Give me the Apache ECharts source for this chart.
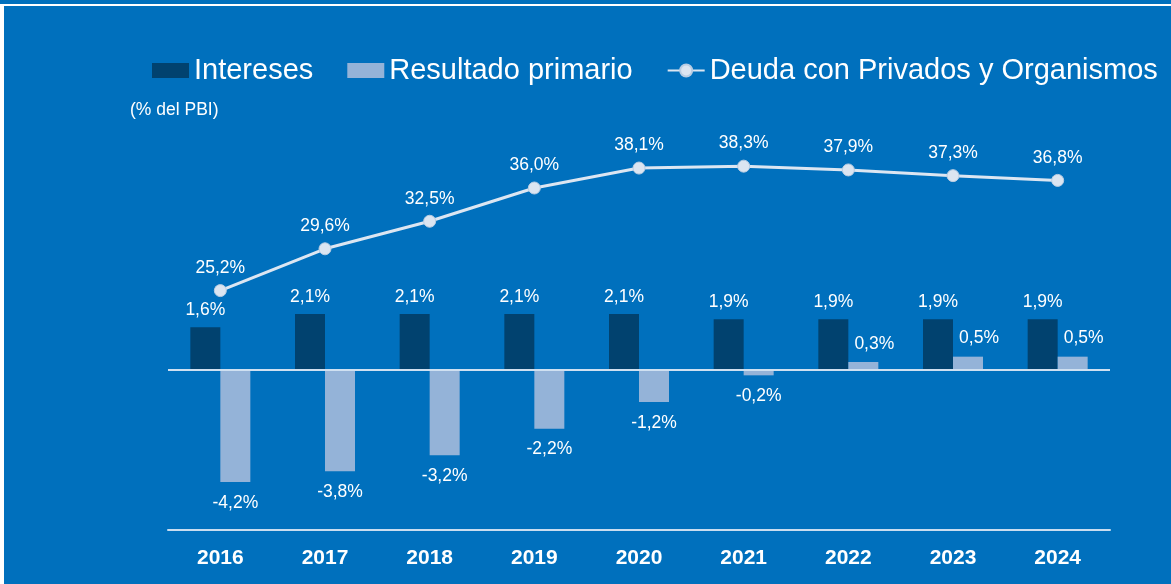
<!DOCTYPE html>
<html>
<head>
<meta charset="utf-8">
<script src="https://cdn.jsdelivr.net/npm/echarts@6/dist/echarts.min.js"></script>
<style>
  html, body { margin: 0; padding: 0; background: #0070bd; }
  #chart { width: 1171px; height: 584px; }
</style>
</head>
<body>
<div id="chart"></div>
<script>
var years = ['2016', '2017', '2018', '2019', '2020', '2021', '2022', '2023', '2024']
var intereses = [1.6, 2.1, 2.1, 2.1, 2.1, 1.9, 1.9, 1.9, 1.9]
var resultadoPrimario = [-4.2, -3.8, -3.2, -2.2, -1.2, -0.2, 0.3, 0.5, 0.5]
var deuda = [25.2, 29.6, 32.5, 36.0, 38.1, 38.3, 37.9, 37.3, 36.8]

var font = "'Liberation Sans', Arial, sans-serif"

function fmt (v) {
  return v.toFixed(1).replace('.', ',') + '%'
}

// negative bars get the label under the bar, positive ones above and a bit right
var primarioData = resultadoPrimario.map(function (v) {
  return {
    value: v,
    label: v < 0
      ? { position: 'bottom', distance: 12, offset: [0, 0] }
      : { position: 'top', distance: 9, offset: [11, 0] }
  }
})

var chart = echarts.init(document.getElementById('chart'))
chart.setOption({
  backgroundColor: '#0070bd',
  animation: false,
  textStyle: { fontFamily: font },
  graphic: [
    { type: 'rect', left: 0, top: 4, shape: { width: 1171, height: 2 }, style: { fill: '#ffffff' } },
    { type: 'rect', left: 0, top: 4, shape: { width: 4, height: 580 }, style: { fill: '#ffffff' } },
    {
      type: 'text', left: 130, top: 101,
      style: { text: '(% del PBI)', fill: '#ffffff', fontSize: 17.5, fontFamily: font }
    }
  ],
  legend: {
    left: 147,
    top: 51,
    itemWidth: 37,
    itemHeight: 15,
    itemGap: 34,
    textStyle: { color: '#ffffff', fontSize: 29, fontFamily: font },
    data: [
      { name: 'Intereses', icon: 'rect' },
      { name: 'Resultado primario', icon: 'rect' },
      { name: 'Deuda con Privados y Organismos' }
    ]
  },
  grid: { left: 168, right: 61, top: 150, bottom: 54 },
  xAxis: {
    type: 'category',
    data: years,
    axisLine: { onZero: false, lineStyle: { color: '#c9ddf0', width: 2 } },
    axisTick: { show: false },
    axisLabel: { color: '#ffffff', fontSize: 21, fontWeight: 'bold', margin: 18, fontFamily: font }
  },
  yAxis: [
    { type: 'value', min: -6, max: 8.25, show: false, splitLine: { show: false } },
    { type: 'value', min: 0, max: 40, show: false, splitLine: { show: false } }
  ],
  series: [
    {
      name: 'Intereses',
      type: 'bar',
      data: intereses,
      barWidth: 30,
      barGap: '0%',
      itemStyle: { color: '#01426f' },
      label: {
        show: true, position: 'top', distance: 8,
        color: '#ffffff', fontSize: 17.5, fontFamily: font,
        formatter: function (p) { return fmt(p.value) }
      },
      markLine: {
        silent: true,
        symbol: 'none',
        label: { show: false },
        lineStyle: { color: '#cfe0f1', width: 2, type: 'solid' },
        data: [{ yAxis: 0 }]
      }
    },
    {
      name: 'Resultado primario',
      type: 'bar',
      data: primarioData,
      barWidth: 30,
      barGap: '0%',
      itemStyle: { color: '#94b3d8' },
      label: {
        show: true,
        color: '#ffffff', fontSize: 17.5, fontFamily: font,
        formatter: function (p) { return fmt(p.value) }
      }
    },
    {
      name: 'Deuda con Privados y Organismos',
      type: 'line',
      yAxisIndex: 1,
      data: deuda,
      symbol: 'circle',
      symbolSize: 12,
      lineStyle: { color: '#dce6f2', width: 3 },
      itemStyle: { color: '#dbe5f1', borderColor: '#b9cde3', borderWidth: 1 },
      label: {
        show: true, position: 'top', distance: 7,
        color: '#ffffff', fontSize: 17.5, fontFamily: font,
        formatter: function (p) { return fmt(p.value) }
      },
      z: 5
    }
  ]
})
</script>
</body>
</html>
